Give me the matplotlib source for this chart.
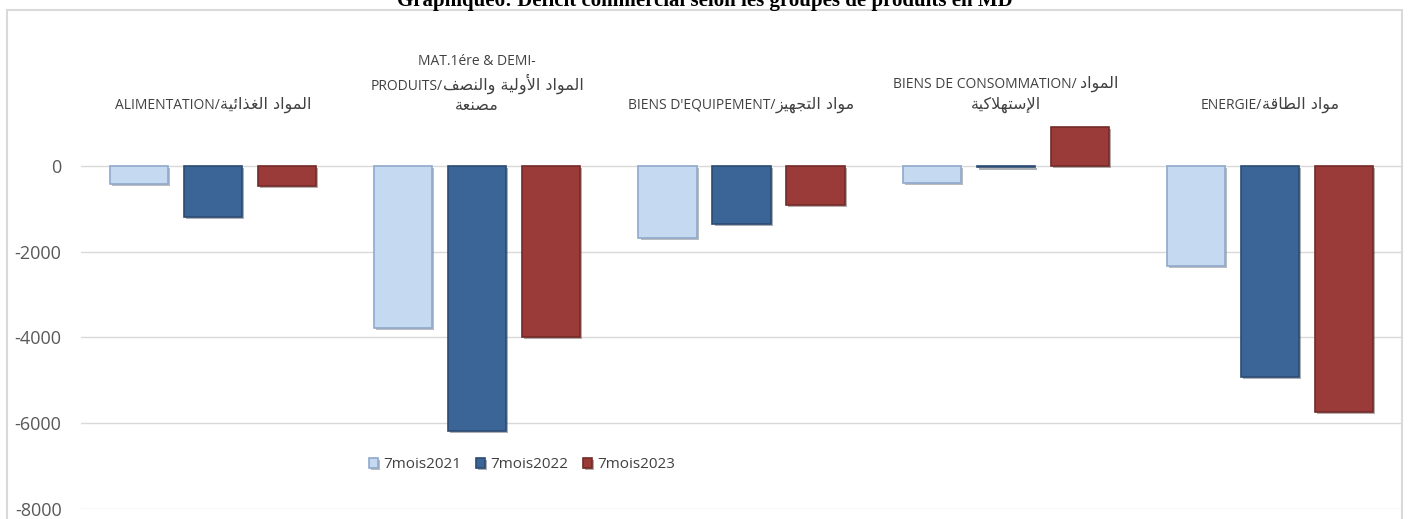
import numpy as np
import matplotlib
matplotlib.use("Agg")
import matplotlib.pyplot as plt
import matplotlib.patheffects as pe
from matplotlib.patches import Rectangle
from matplotlib.offsetbox import TextArea, HPacker, VPacker, AnnotationBbox

plt.rcParams["axes.unicode_minus"] = False

# Data (MD)
series = ["7mois2021", "7mois2022", "7mois2023"]
vals_2021 = [-430, -3780, -1690, -395, -2340]
vals_2022 = [-1190, -6180, -1360, -40, -4920]
vals_2023 = [-475, -3990, -915, 910, -5730]

# category labels: one list of (latin, arabic) lines per category
category_lines = [
    [("ALIMENTATION/", "المواد الغذائية")],
    [("MAT.1ére & DEMI-", ""), ("PRODUITS/", "المواد الأولية والنصف"), ("", "مصنعة")],
    [("BIENS D'EQUIPEMENT/", "مواد التجهيز")],
    [("BIENS DE CONSOMMATION/ ", "المواد"), ("", "الإستهلاكية")],
    [("ENERGIE/", "مواد الطاقة")],
]

title = "Graphique6: Déficit commercial selon les groupes de produits en MD"

face_colors = ["#c5d9f1", "#3b6597", "#9b3b39"]
edge_colors = ["#8fa9cc", "#2b4b72", "#722b29"]

# minimal Arabic shaping (presentation forms) so the labels read correctly
FORMS = {
    'ا': (0xFE8D, 0xFE8E), 'أ': (0xFE83, 0xFE84), 'إ': (0xFE87, 0xFE88),
    'ة': (0xFE93, 0xFE94), 'د': (0xFEA9, 0xFEAA), 'ذ': (0xFEAB, 0xFEAC),
    'ز': (0xFEAF, 0xFEB0), 'و': (0xFEED, 0xFEEE),
    'ت': (0xFE95, 0xFE96, 0xFE97, 0xFE98), 'ج': (0xFE9D, 0xFE9E, 0xFE9F, 0xFEA0),
    'س': (0xFEB1, 0xFEB2, 0xFEB3, 0xFEB4), 'ص': (0xFEB9, 0xFEBA, 0xFEBB, 0xFEBC),
    'ط': (0xFEC1, 0xFEC2, 0xFEC3, 0xFEC4), 'ع': (0xFEC9, 0xFECA, 0xFECB, 0xFECC),
    'غ': (0xFECD, 0xFECE, 0xFECF, 0xFED0), 'ف': (0xFED1, 0xFED2, 0xFED3, 0xFED4),
    'ق': (0xFED5, 0xFED6, 0xFED7, 0xFED8), 'ك': (0xFED9, 0xFEDA, 0xFEDB, 0xFEDC),
    'ل': (0xFEDD, 0xFEDE, 0xFEDF, 0xFEE0), 'م': (0xFEE1, 0xFEE2, 0xFEE3, 0xFEE4),
    'ن': (0xFEE5, 0xFEE6, 0xFEE7, 0xFEE8), 'ه': (0xFEE9, 0xFEEA, 0xFEEB, 0xFEEC),
    'ئ': (0xFE89, 0xFE8A, 0xFE8B, 0xFE8C), 'ي': (0xFEF1, 0xFEF2, 0xFEF3, 0xFEF4),
}
LAM_ALEF = {'ا': (0xFEFB, 0xFEFC), 'أ': (0xFEF7, 0xFEF8), 'إ': (0xFEF9, 0xFEFA)}


def shape(text):
    units = []
    i = 0
    while i < len(text):
        if text[i] == 'ل' and i + 1 < len(text) and text[i + 1] in LAM_ALEF:
            units.append(('LA', text[i + 1]))
            i += 2
        else:
            units.append(text[i])
            i += 1

    def forms(u):
        return LAM_ALEF[u[1]] if isinstance(u, tuple) else FORMS.get(u)

    out = []
    for k, u in enumerate(units):
        f = forms(u)
        if f is None:
            out.append(u)
            continue
        prev = forms(units[k - 1]) if k > 0 else None
        nxt = forms(units[k + 1]) if k + 1 < len(units) else None
        jp = prev is not None and len(prev) == 4
        jn = len(f) == 4 and nxt is not None
        if jp and jn:
            cp = f[3]
        elif jn:
            cp = f[2]
        elif jp:
            cp = f[1]
        else:
            cp = f[0]
        out.append(chr(cp))
    return ''.join(out)[::-1]


fam = ["Open Sans", "DejaVu Sans"]
lat_props = dict(fontsize=10, color="#404040", family="Open Sans")
ar_props = dict(fontsize=11.5, color="#404040", family="DejaVu Sans")

fig = plt.figure(figsize=(14.09, 5.19), dpi=100)
ax = fig.add_axes([0.0575, 0.0193, 0.9375, 0.8597])

x = np.arange(len(category_lines))
step = 0.28
width = 0.22
shadow = [pe.SimplePatchShadow(offset=(1.5, -1.5), alpha=0.35), pe.Normal()]
for i, vals in enumerate([vals_2021, vals_2022, vals_2023]):
    bars = ax.bar(x + (i - 1) * step, vals, width, color=face_colors[i],
                  edgecolor=edge_colors[i], linewidth=1.2, label=series[i], zorder=3)
    for b in bars:
        b.set_path_effects(shadow)

ax.set_xlim(-0.5, len(category_lines) - 0.5)
ax.set_ylim(-8000, 2400)
ax.set_yticks([0, -2000, -4000, -6000, -8000])
ax.yaxis.grid(True, color="#d9d9d9", linewidth=1, zorder=0)
ax.set_axisbelow(True)
ax.set_xticks([])
for s in ax.spines.values():
    s.set_visible(False)
ax.tick_params(axis="y", length=0, pad=14, labelcolor="#595959", labelsize=13)
for t in ax.get_yticklabels():
    t.set_family(fam)

# category labels at the top of the plot area
for xi, lines in zip(x, category_lines):
    rows = []
    for lat, ar in lines:
        parts = []
        if lat:
            parts.append(TextArea(lat, textprops=lat_props))
        if ar:
            parts.append(TextArea(shape(ar), textprops=ar_props))
        rows.append(HPacker(children=parts, align="baseline", pad=0, sep=0))
    box = VPacker(children=rows, align="center", pad=0, sep=3)
    ab = AnnotationBbox(box, (xi, 1230), box_alignment=(0.5, 0), frameon=False,
                        xycoords="data", annotation_clip=False)
    ax.add_artist(ab)

leg = ax.legend(loc="center", bbox_to_anchor=(522 / 1409, 1 - 465 / 519), bbox_transform=fig.transFigure,
                ncol=3, frameon=False, fontsize=11, handlelength=0.6, handleheight=0.6,
                handletextpad=0.3, columnspacing=1.0, labelcolor="#404040")
for t in leg.get_texts():
    t.set_family(fam)

# chart border
fig.patches.append(Rectangle((7 / 1409, -0.1), 1395 / 1409, 1.1 - 10 / 519, transform=fig.transFigure,
                             fill=False, edgecolor="#d9d9d9", linewidth=1.5))

fig.text(0.5, 1 - 6 / 519, title, ha="center", va="baseline", fontsize=15,
         fontweight="bold", family="Liberation Serif")

fig.savefig("out.png", dpi=100)
